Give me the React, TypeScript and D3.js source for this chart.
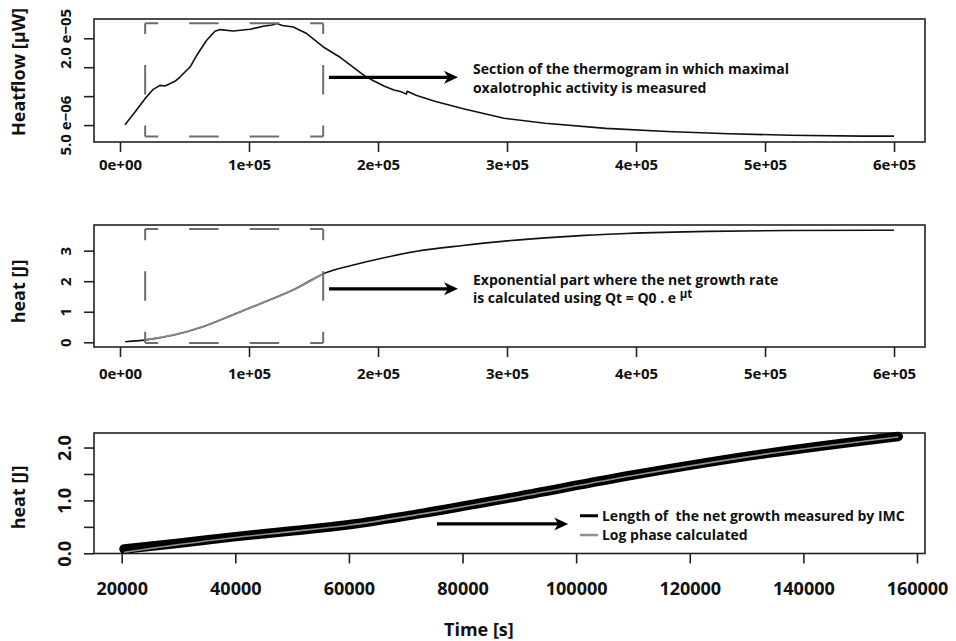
import React, { useEffect, useRef } from 'react';
import * as d3 from 'd3';

// ---- panel 1 : thermogram (heat flow against time) ----
const FLOW_TIME = [3900, 11600, 19400, 25800, 31000, 34900, 42600, 46500, 54300, 59500, 67200, 73600, 77500, 87800, 100800, 111100, 118000, 121500, 126000, 134300, 144700, 157600, 171200, 190200, 196500, 205000, 212300, 218000, 222000, 222600, 230000, 244000, 266100, 297700, 329500, 376700, 424000, 471800, 519200, 576000, 600000];
const FLOW_VALUE = [5.07e-6, 7.25e-6, 9.57e-6, 11.18e-6, 11.87e-6, 11.75e-6, 12.56e-6, 13.3e-6, 15.03e-6, 17.06e-6, 19.65e-6, 21.21e-6, 21.5e-6, 21.26e-6, 21.56e-6, 22.08e-6, 22.3e-6, 22.54e-6, 22.2e-6, 21.96e-6, 20.81e-6, 18.5e-6, 16.63e-6, 13.41e-6, 12.65e-6, 11.7e-6, 11.06e-6, 10.75e-6, 10.35e-6, 10.85e-6, 10.1e-6, 9.13e-6, 7.84e-6, 6.19e-6, 5.31e-6, 4.43e-6, 3.9e-6, 3.5e-6, 3.25e-6, 3.1e-6, 3.1e-6];

// ---- panel 2 : cumulated heat ----
const HEAT_TIME = [4000, 20000, 41800, 64300, 87600, 110900, 134100, 157400, 180000, 202800, 230000, 265900, 300000, 329500, 360000, 392600, 455800, 519400, 600000];
const HEAT_VALUE = [0.02, 0.08, 0.24, 0.51, 0.9, 1.3, 1.71, 2.24, 2.52, 2.75, 2.98, 3.17, 3.32, 3.42, 3.5, 3.56, 3.63, 3.66, 3.67];

// ---- panel 3 : zoom on the exponential section ----
const ZOOM_TIME = [20400, 30000, 39650, 49800, 59900, 73100, 88400, 110000, 133600, 156700];
const ZOOM_MEASURED = [0.08, 0.19, 0.31, 0.42, 0.54, 0.76, 1.05, 1.48, 1.89, 2.21];
const ZOOM_FIT = [0.02, 0.165, 0.295, 0.41, 0.53, 0.75, 1.04, 1.47, 1.88, 2.2];

// section of the run used for the fit
const SECTION = [19500, 157500];

// ticks
const TIME_TICKS = [0, 1e5, 2e5, 3e5, 4e5, 5e5, 6e5];
const TIME_LABELS = ['0e+00', '1e+05', '2e+05', '3e+05', '4e+05', '5e+05', '6e+05'];
const FLOW_TICKS = [5e-6, 1e-5, 1.5e-5, 2e-5];
const FLOW_LABELS = ['5.0 e\u221206', '', '', '2.0 e\u221205'];
const HEAT_TICKS = [0, 1, 2, 3];
const HEAT_LABELS = ['0', '1', '2', '3'];
const ZOOM_X_TICKS = [20000, 40000, 60000, 80000, 100000, 120000, 140000, 160000];
const ZOOM_X_LABELS = ['20000', '40000', '60000', '80000', '100000', '120000', '140000', '160000'];
const ZOOM_Y_TICKS = [0, 0.5, 1, 1.5, 2];
const ZOOM_Y_LABELS = ['0.0', '', '1.0', '', '2.0'];

const FONT = "'Open Sans', 'DejaVu Sans', sans-serif";
const LEFT = 94;
const RIGHT = 925;

const App = () => {
    const svgRef = useRef<SVGSVGElement>(null);

    useEffect(() => {
        const svg = d3.select(svgRef.current);
        svg.selectAll('*').remove();

        //----- scales -----
        const x1 = d3.scaleLinear().domain([-20150, 624000]).range([LEFT, RIGHT]);
        const y1 = d3.scaleLinear().domain([2.08e-6, 23.33e-6]).range([142, 19]);
        const y2 = d3.scaleLinear().domain([-0.154, 3.84]).range([347, 225]);
        const x3 = d3.scaleLinear().domain([15124, 161408]).range([LEFT, RIGHT]);
        const y3 = d3.scaleLinear().domain([-0.004, 2.275]).range([553.5, 433]);

        drawAxes(x1, y1, TIME_TICKS, TIME_LABELS, FLOW_TICKS, FLOW_LABELS, 15, 28);
        drawAxes(x1, y2, TIME_TICKS, TIME_LABELS, HEAT_TICKS, HEAT_LABELS, 15, 32);
        drawAxes(x3, y3, ZOOM_X_TICKS, ZOOM_X_LABELS, ZOOM_Y_TICKS, ZOOM_Y_LABELS, 18, 41.5);

        // panel 1 curve
        const flowLine = d3.line<number>()
            .x((d, i) => x1(FLOW_TIME[i]))
            .y(d => y1(d));
        svg.append('path')
            .attr('d', flowLine(FLOW_VALUE))
            .attr('fill', 'none')
            .attr('stroke', '#111')
            .attr('stroke-width', 1.6)
            .attr('stroke-linejoin', 'round');

        // panel 2 curve, black with the fitted section in grey
        const heatLine = d3.line<number>()
            .x((d, i) => x1(HEAT_TIME[i]))
            .y(d => y2(d))
            .curve(d3.curveMonotoneX);
        svg.append('path')
            .attr('d', heatLine(HEAT_VALUE))
            .attr('fill', 'none')
            .attr('stroke', '#111')
            .attr('stroke-width', 1.6);
        const secIdx = HEAT_TIME.map((t, i) => i).filter(i => HEAT_TIME[i] >= 19000 && HEAT_TIME[i] <= 158000);
        const secLine = d3.line<number>()
            .x(i => x1(HEAT_TIME[i]))
            .y(i => y2(HEAT_VALUE[i]))
            .curve(d3.curveMonotoneX);
        svg.append('path')
            .attr('d', secLine(secIdx))
            .attr('fill', 'none')
            .attr('stroke', '#8a8a8a')
            .attr('stroke-width', 1.8);

        // dashed boxes
        dashedBox(x1(SECTION[0]), x1(SECTION[1]), y1(22.6e-6), y1(3.04e-6));
        dashedBox(x1(SECTION[0]), x1(SECTION[1]), y2(3.71), y2(-0.02));

        // panel 3 curves
        const zoomLine = d3.line<number>()
            .x((d, i) => x3(ZOOM_TIME[i]))
            .y(d => y3(d))
            .curve(d3.curveMonotoneX);
        svg.append('path')
            .attr('d', zoomLine(ZOOM_MEASURED))
            .attr('fill', 'none')
            .attr('stroke', '#000')
            .attr('stroke-width', 9.5)
            .attr('stroke-linecap', 'round');
        svg.append('path')
            .attr('d', zoomLine(ZOOM_FIT))
            .attr('fill', 'none')
            .attr('stroke', '#8f8f8f')
            .attr('stroke-width', 1.6);

        // arrows
        arrow(x1(162000), x1(262000), y1(13.25e-6));
        arrow(x1(162000), x1(262000), y2(1.75));
        arrow(x3(75500), x3(98600), y3(0.555));

        // annotations
        note(x1(273600), y1(13.25e-6) - 3.5, 'Section of the thermogram in which maximal');
        note(x1(273600), y1(13.25e-6) + 15.5, 'oxalotrophic activity is measured');
        note(x1(273600), y2(1.75) - 4, 'Exponential part where the net growth rate');
        const l2 = note(x1(273600), y2(1.75) + 14.5, 'is calculated using Qt = Q0 . e ');
        l2.append('tspan').attr('dy', -5).attr('font-size', 11.5).text('\u03bct');

        // legend
        const lx = x3(100670);
        const ly = [y3(0.71), y3(0.345)];
        svg.append('line').attr('x1', lx).attr('x2', lx + 18).attr('y1', ly[0]).attr('y2', ly[0])
            .attr('stroke', '#000').attr('stroke-width', 3);
        svg.append('line').attr('x1', lx).attr('x2', lx + 18).attr('y1', ly[1]).attr('y2', ly[1])
            .attr('stroke', '#8f8f8f').attr('stroke-width', 2.5);
        note(lx + 22, ly[0] + 5, 'Length of\u00a0 the net growth measured by IMC');
        note(lx + 22, ly[1] + 5, 'Log phase calculated');

        // axis titles
        yTitle(25, 72, 'Heatflow [\u03bcW]');
        yTitle(25, 291.5, 'heat [J]');
        yTitle(25, 497.5, 'heat [J]');
        svg.append('text')
            .attr('x', 444).attr('y', 636)
            .attr('font-family', FONT).attr('font-weight', 700).attr('font-size', 18)
            .attr('fill', '#111')
            .text('Time [s]');

        //----- FUNCTION DEFINITIONS -----
        function drawAxes(x, y, xt, xl, yt, yl, fs, labelY) {
            const [top, bottom] = [y.range()[1], y.range()[0]];
            svg.append('rect')
                .attr('x', LEFT).attr('y', top)
                .attr('width', RIGHT - LEFT).attr('height', bottom - top)
                .attr('fill', 'none').attr('stroke', '#222').attr('stroke-width', 1.6);

            const gx = svg.append('g')
                .attr('transform', `translate(0,${bottom})`)
                .call(d3.axisBottom(x).tickValues(xt).tickFormat((d, i) => xl[i]).tickSize(10).tickSizeOuter(0));
            gx.select('.domain').remove();
            gx.selectAll('line').attr('stroke', '#222').attr('stroke-width', 1.6);
            gx.selectAll('text')
                .attr('y', labelY).attr('dy', 0)
                .attr('font-family', FONT).attr('font-weight', 700).attr('font-size', fs)
                .attr('fill', '#111');

            const gy = svg.append('g')
                .attr('transform', `translate(${LEFT},0)`)
                .call(d3.axisLeft(y).tickValues(yt).tickFormat((d, i) => yl[i]).tickSize(10).tickSizeOuter(0));
            gy.select('.domain').remove();
            gy.selectAll('line').attr('stroke', '#222').attr('stroke-width', 1.6);
            gy.selectAll('text')
                .attr('transform', 'rotate(-90)')
                .attr('x', 0).attr('y', -23).attr('dy', 0)
                .attr('text-anchor', 'middle')
                .attr('font-family', FONT).attr('font-weight', 700).attr('font-size', fs)
                .attr('fill', '#111');
        }

        function dashedEdge(ax, ay, bx, by) {
            const dash = 29.5, gap = 31, period = dash + gap;
            const len = Math.hypot(bx - ax, by - ay);
            const c = len / 2;
            let off = ((dash / 2 - c) % period + period) % period;
            if (off >= dash) off = ((dash + gap / 2 - c) % period + period) % period;
            svg.append('line')
                .attr('x1', ax).attr('y1', ay).attr('x2', bx).attr('y2', by)
                .attr('stroke', '#6e6e6e').attr('stroke-width', 2)
                .attr('stroke-dasharray', `${dash} ${gap}`)
                .attr('stroke-dashoffset', off);
        }

        function dashedBox(xa, xb, ya, yb) {
            dashedEdge(xa, ya, xb, ya);
            dashedEdge(xa, yb, xb, yb);
            dashedEdge(xa, ya, xa, yb);
            dashedEdge(xb, ya, xb, yb);
        }

        function arrow(xa, xb, yy) {
            svg.append('line')
                .attr('x1', xa).attr('x2', xb - 8).attr('y1', yy).attr('y2', yy)
                .attr('stroke', '#000').attr('stroke-width', 3.2);
            svg.append('path')
                .attr('d', `M${xb},${yy} L${xb - 14},${yy - 6.5} L${xb - 10},${yy} L${xb - 14},${yy + 6.5} Z`)
                .attr('fill', '#000');
        }

        function note(xx, yy, txt) {
            return svg.append('text')
                .attr('x', xx).attr('y', yy)
                .attr('font-family', FONT).attr('font-weight', 700).attr('font-size', 14)
                .attr('fill', '#111')
                .text(txt);
        }

        function yTitle(xx, yy, txt) {
            svg.append('text')
                .attr('transform', `translate(${xx},${yy}) rotate(-90)`)
                .attr('text-anchor', 'middle')
                .attr('font-family', FONT).attr('font-weight', 700).attr('font-size', 18)
                .attr('fill', '#111')
                .text(txt);
        }
    }, []);

    return <svg ref={svgRef} width={956} height={641}
        style={{ position: 'absolute', left: 0, top: 0, background: '#fff' }} />;
};

export default App;
